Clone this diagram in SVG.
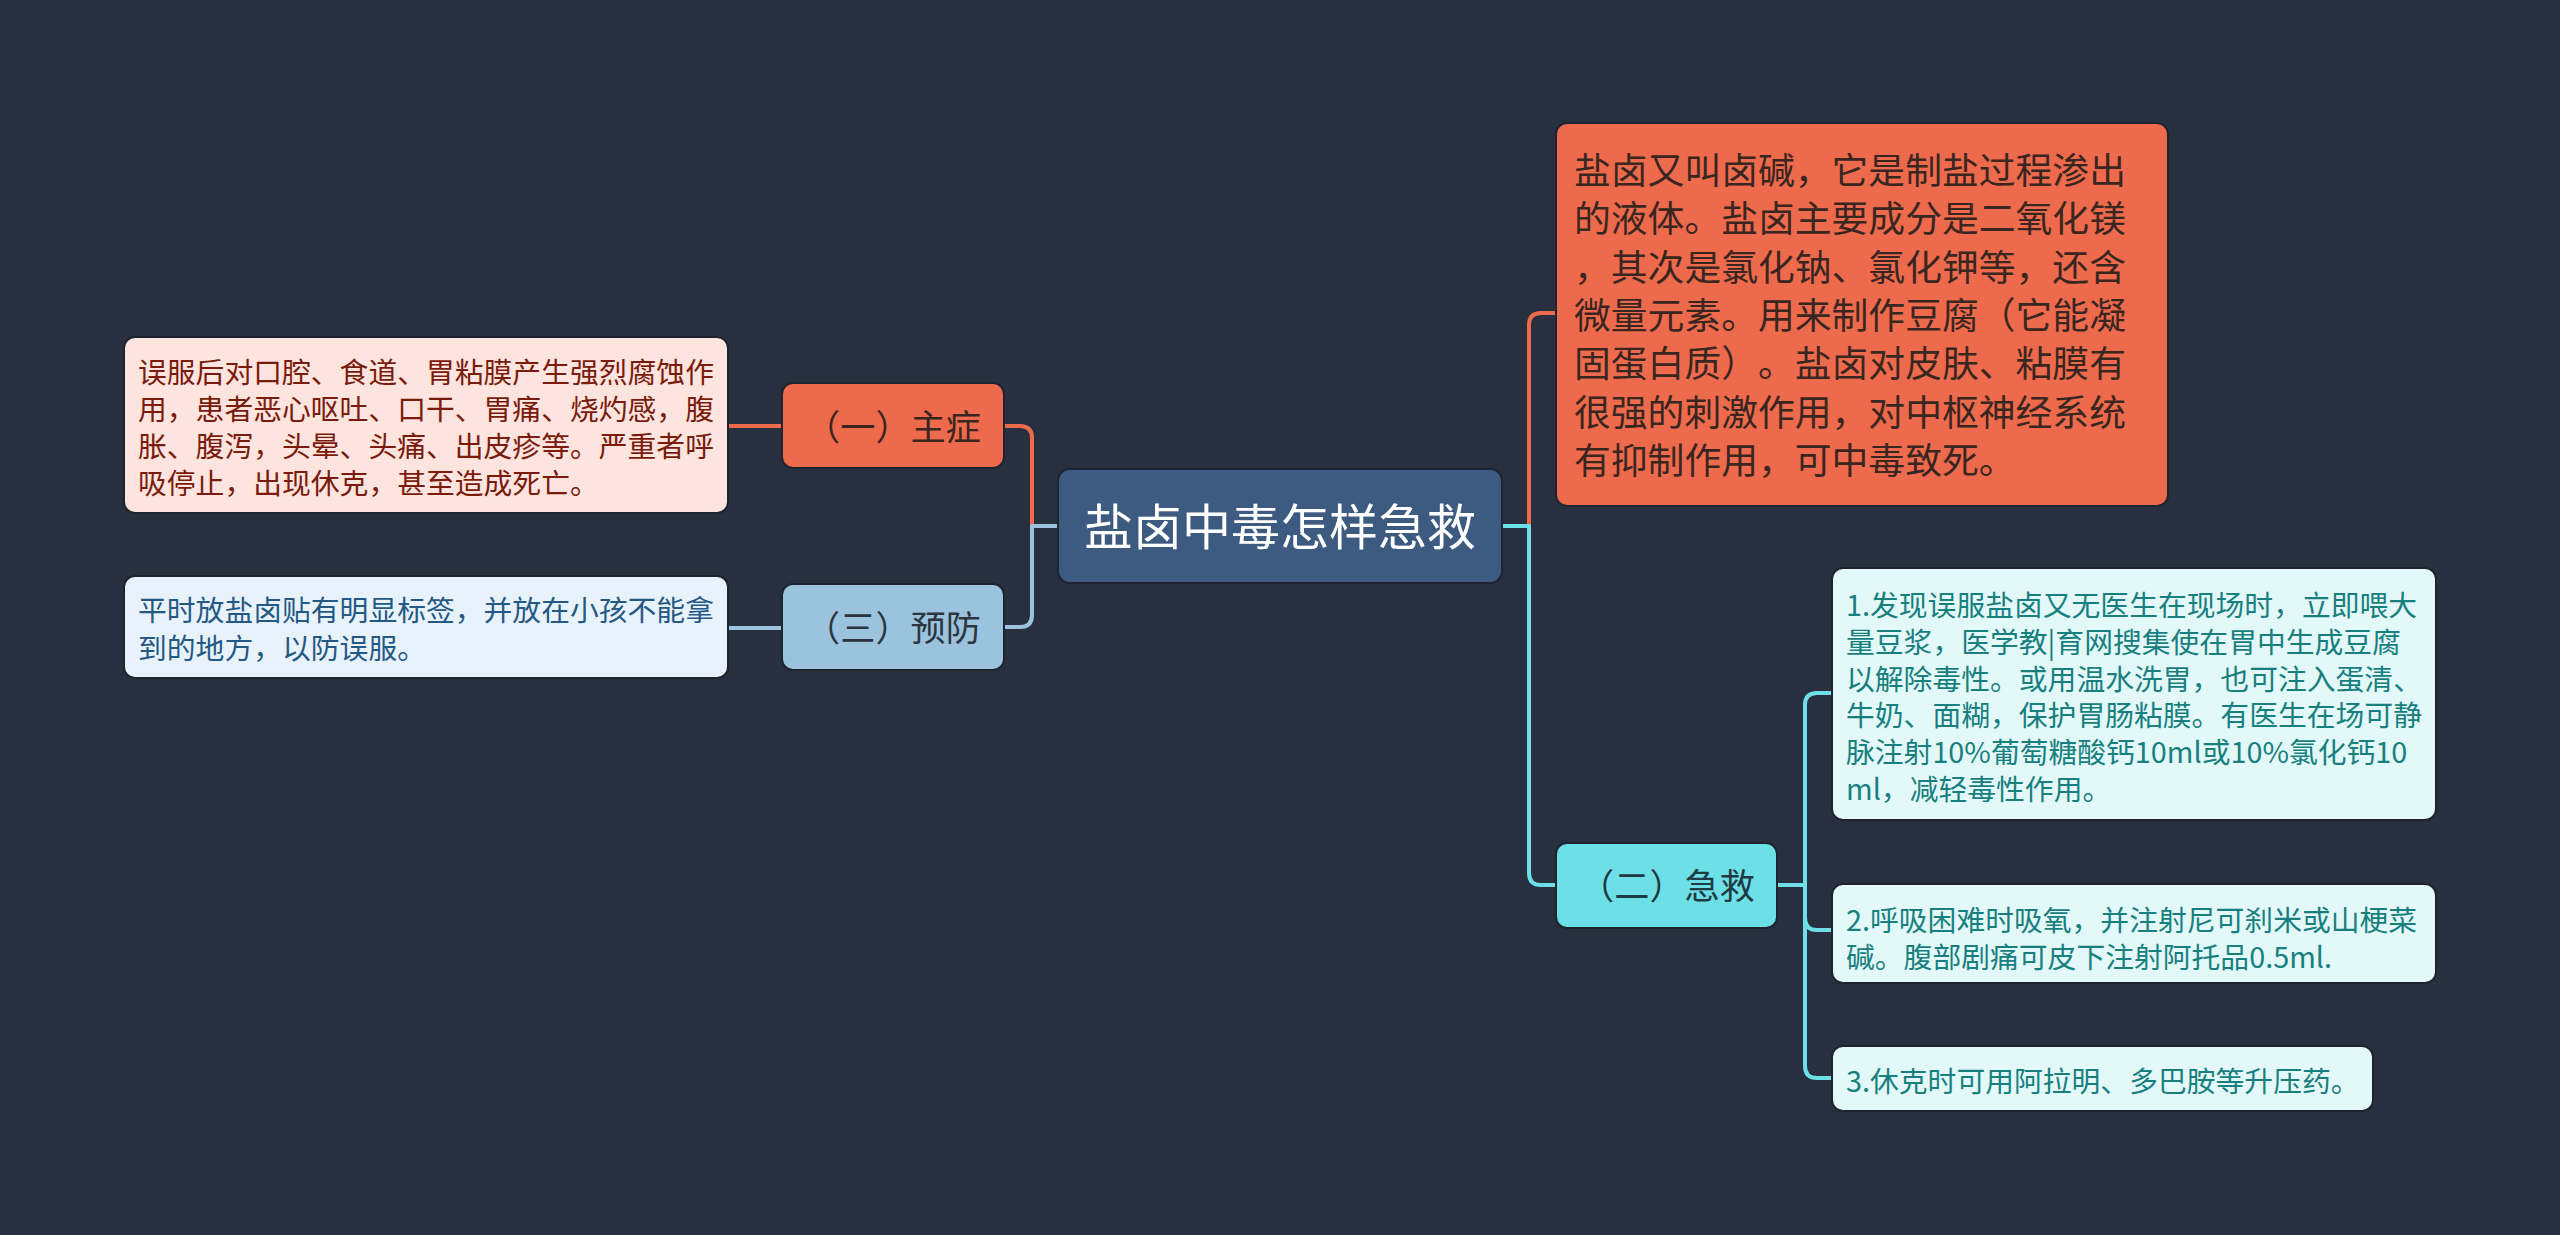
<svg xmlns="http://www.w3.org/2000/svg" width="2560" height="1235" viewBox="0 0 2560 1235">
<style>
text{font-family:"Noto Sans CJK SC","Noto Sans",sans-serif;text-spacing-trim:space-all;}
.node{stroke:#1d2430;stroke-width:2;}
.c{fill:none;stroke-width:4;stroke-linecap:round;stroke-linejoin:round;}
.red{stroke:#ee6a4c;}
.blue{stroke:#9cc3de;}
.teal{stroke:#6ddfe6;}
.t29{font-size:28.8px;}
.t37{font-size:36.8px;}
.t35{font-size:35.2px;text-anchor:middle;}
</style>
<rect x="0" y="0" width="2560" height="1235" fill="#283040"/>

<g id="connectors">
  <path class="c red" d="M728,426 H782"/>
  <path class="c blue" d="M728,628 H782"/>
  <path class="c red" d="M1004,426 H1020 Q1032,426 1032,438 V526"/>
  <path class="c blue" d="M1058,526 H1032 V615 Q1032,627 1020,627 H1004"/>
  <path class="c red" d="M1529,526 V325 Q1529,313 1541,313 H1556"/>
  <path class="c teal" d="M1502,526 H1529 V873 Q1529,885 1541,885 H1556"/>
  <path class="c teal" d="M1777,885 H1805"/>
  <path class="c teal" d="M1832,693 H1817 Q1805,693 1805,705 V1066 Q1805,1078 1817,1078 H1832"/>
  <path class="c teal" d="M1805,918 Q1805,930 1817,930 H1832"/>
</g>

<g id="root">
  <rect class="node" x="1058" y="469" width="444" height="114" rx="12" fill="#3d5a80"/>
  <text x="1280" y="545" font-size="49" text-anchor="middle" fill="#ffffff">盐卤中毒怎样急救</text>
</g>

<g id="n-zhuzheng">
  <rect class="node" x="782" y="383" width="222" height="85" rx="11" fill="#ee6a4c"/>
  <text class="t35" x="893" y="440" fill="#3a2620">（一）主症</text>
</g>

<g id="n-zhuzheng-detail">
  <rect class="node" x="124" y="337" width="604" height="176" rx="11" fill="#fde4de"/>
  <g class="t29" fill="#7a1b0c">
    <text x="138" y="383">误服后对口腔、食道、胃粘膜产生强烈腐蚀作</text>
    <text x="138" y="420">用，患者恶心呕吐、口干、胃痛、烧灼感，腹</text>
    <text x="138" y="457">胀、腹泻，头晕、头痛、出皮疹等。严重者呼</text>
    <text x="138" y="494">吸停止，出现休克，甚至造成死亡。</text>
  </g>
</g>

<g id="n-yufang">
  <rect class="node" x="782" y="584" width="222" height="86" rx="11" fill="#9cc3de"/>
  <text class="t35" x="893" y="641" fill="#2b3640">（三）预防</text>
</g>

<g id="n-yufang-detail">
  <rect class="node" x="124" y="576" width="604" height="102" rx="11" fill="#e8f2fa"/>
  <g class="t29" fill="#255985">
    <text x="138" y="621">平时放盐卤贴有明显标签，并放在小孩不能拿</text>
    <text x="138" y="659">到的地方，以防误服。</text>
  </g>
</g>

<g id="n-intro">
  <rect class="node" x="1556" y="123" width="612" height="383" rx="11" fill="#ee6a4c"/>
  <g class="t37" fill="#3a2620">
    <text x="1574" y="184">盐卤又叫卤碱，它是制盐过程渗出</text>
    <text x="1574" y="232">的液体。盐卤主要成分是二氧化镁</text>
    <text x="1574" y="281">，其次是氯化钠、氯化钾等，还含</text>
    <text x="1574" y="329">微量元素。用来制作豆腐（它能凝</text>
    <text x="1574" y="377">固蛋白质）。盐卤对皮肤、粘膜有</text>
    <text x="1574" y="426">很强的刺激作用，对中枢神经系统</text>
    <text x="1574" y="474">有抑制作用，可中毒致死。</text>
  </g>
</g>

<g id="n-jijiu">
  <rect class="node" x="1556" y="843" width="221" height="85" rx="11" fill="#6ddfe6"/>
  <text class="t35" x="1667" y="899" fill="#1f3a42">（二）急救</text>
</g>

<g id="n-jijiu-1">
  <rect class="node" x="1832" y="568" width="604" height="252" rx="11" fill="#e3f8f8"/>
  <g class="t29" fill="#17807f">
    <text x="1846" y="616">1.发现误服盐卤又无医生在现场时，立即喂大</text>
    <text x="1846" y="653">量豆浆，医学教|育网搜集使在胃中生成豆腐</text>
    <text x="1846" y="690">以解除毒性。或用温水洗胃，也可注入蛋清、</text>
    <text x="1846" y="726">牛奶、面糊，保护胃肠粘膜。有医生在场可静</text>
    <text x="1846" y="763">脉注射10%葡萄糖酸钙10ml或10%氯化钙10</text>
    <text x="1846" y="800">ml，减轻毒性作用。</text>
  </g>
</g>

<g id="n-jijiu-2">
  <rect class="node" x="1832" y="884" width="604" height="99" rx="11" fill="#e3f8f8"/>
  <g class="t29" fill="#17807f">
    <text x="1846" y="931">2.呼吸困难时吸氧，并注射尼可刹米或山梗菜</text>
    <text x="1846" y="968">碱。腹部剧痛可皮下注射阿托品0.5ml.</text>
  </g>
</g>

<g id="n-jijiu-3">
  <rect class="node" x="1832" y="1046" width="541" height="65" rx="11" fill="#e3f8f8"/>
  <text class="t29" x="1846" y="1092" fill="#17807f">3.休克时可用阿拉明、多巴胺等升压药。</text>
</g>
</svg>
